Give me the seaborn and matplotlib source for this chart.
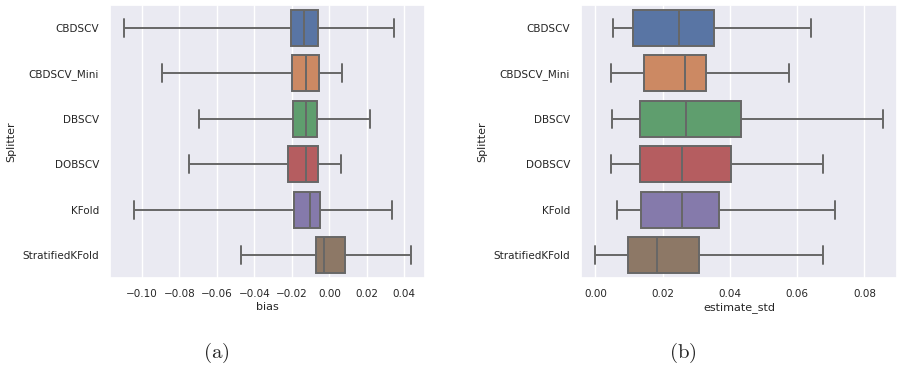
import numpy as np
import pandas as pd
import matplotlib
matplotlib.use("Agg")
import matplotlib.pyplot as plt
import seaborn as sns

# ---- data (five-number summaries) ----
splitters = ["CBDSCV", "CBDSCV_Mini", "DBSCV", "DOBSCV", "KFold", "StratifiedKFold"]

bias_min = [-0.1094, -0.0894, -0.0697, -0.0750, -0.1044, -0.0474]
bias_q1 = [-0.0207, -0.0198, -0.0196, -0.0220, -0.0189, -0.0069]
bias_med = [-0.0135, -0.0127, -0.0126, -0.0126, -0.0101, -0.0027]
bias_q3 = [-0.0062, -0.0053, -0.0065, -0.0062, -0.0051, 0.0083]
bias_max = [0.0343, 0.0067, 0.0218, 0.0064, 0.0333, 0.0434]

std_min = [0.00525, 0.00475, 0.00505, 0.00475, 0.00634, 0.0000]
std_q1 = [0.0112, 0.0144, 0.0133, 0.0132, 0.0137, 0.0096]
std_med = [0.0250, 0.0267, 0.0268, 0.0259, 0.0257, 0.0182]
std_q3 = [0.0353, 0.0330, 0.0432, 0.0402, 0.0368, 0.0308]
std_max = [0.0640, 0.0577, 0.0854, 0.0676, 0.0713, 0.0676]

captions = ["(a)", "(b)"]

rows = []
for i, s in enumerate(splitters):
    b = [bias_min[i], bias_q1[i], bias_med[i], bias_q3[i], bias_max[i]]
    e = [std_min[i], std_q1[i], std_med[i], std_q3[i], std_max[i]]
    for bv, ev in zip(b, e):
        rows.append({"Splitter": s, "bias": bv, "estimate_std": ev})
df = pd.DataFrame(rows)

sns.set_theme(style="darkgrid")
plt.rcParams["mathtext.fontset"] = "cm"

fig = plt.figure(figsize=(8.98, 3.70), dpi=100)
ax1 = fig.add_axes([110 / 898, 1 - 278 / 370, 315 / 898, 273 / 370])
ax2 = fig.add_axes([581 / 898, 1 - 278 / 370, 316 / 898, 273 / 370])

for ax, col, cap in zip([ax1, ax2], ["bias", "estimate_std"], captions):
    sns.boxplot(data=df, x=col, y="Splitter", hue="Splitter", order=splitters,
                hue_order=splitters, palette="deep", legend=False,
                whis=(0, 100), ax=ax, saturation=0.75, linewidth=1.4,
                linecolor="#676767")
    ax.tick_params(labelsize=7.5, pad=2)
    ax.set_xlabel(col, fontsize=8, labelpad=2)
    ax.set_ylabel("Splitter", fontsize=8)

ax1.set_xticks([-0.10, -0.08, -0.06, -0.04, -0.02, 0.00, 0.02, 0.04])
ax1.set_xticklabels(["−0.10", "−0.08", "−0.06", "−0.04", "−0.02", "0.00", "0.02", "0.04"])
ax2.set_xticks([0.00, 0.02, 0.04, 0.06, 0.08])
ax2.set_xticklabels(["0.00", "0.02", "0.04", "0.06", "0.08"])

fig.text(216 / 898, 1 - 353 / 370, r"$(\mathrm{a})$", fontsize=15, ha="center", va="center")
fig.text(683 / 898, 1 - 353 / 370, r"$(\mathrm{b})$", fontsize=15, ha="center", va="center")

fig.savefig("out.png", dpi=100)
